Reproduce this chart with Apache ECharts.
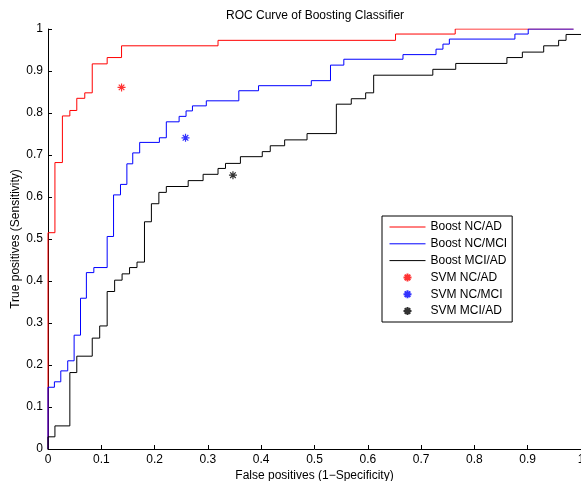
<!DOCTYPE html>
<html>
<head>
<meta charset="utf-8">
<script src="https://cdn.jsdelivr.net/npm/echarts@6/dist/echarts.min.js"></script>
<style>
  html, body { margin: 0; padding: 0; background: #fff; }
  #chart { width: 581px; height: 481px; }
</style>
</head>
<body>
<div id="chart"></div>
<script>
// ROC step points (x = false positive rate, y = true positive rate)
var redFpr = [0, 0, 0.013, 0.027, 0.041, 0.054, 0.069, 0.083, 0.111, 0.138, 0.319, 0.652, 0.764, 0.986]
var redTpr = [0, 0.515, 0.682, 0.793, 0.806, 0.835, 0.848, 0.917, 0.932, 0.960, 0.973, 0.988, 1.0, 1.0]

var blueFpr = [0, 0, 0.012, 0.024, 0.037, 0.049, 0.061, 0.072, 0.086, 0.111, 0.123, 0.136, 0.148, 0.159, 0.172,
  0.209, 0.222, 0.246, 0.259, 0.271, 0.297, 0.358, 0.395, 0.494, 0.530, 0.555, 0.666, 0.728, 0.741, 0.753, 0.876, 0.901, 0.986]
var blueTpr = [0, 0.147, 0.160, 0.186, 0.210, 0.271, 0.359, 0.420, 0.432, 0.506, 0.605, 0.630, 0.679, 0.705, 0.730,
  0.741, 0.779, 0.792, 0.805, 0.817, 0.829, 0.853, 0.865, 0.877, 0.914, 0.928, 0.939, 0.952, 0.964, 0.976, 0.988, 1.0, 1.0]

var blackFpr = [0, 0, 0.013, 0.041, 0.054, 0.083, 0.097, 0.111, 0.125, 0.139, 0.153, 0.167, 0.181, 0.194, 0.208, 0.222,
  0.263, 0.291, 0.319, 0.333, 0.361, 0.402, 0.417, 0.444, 0.486, 0.541, 0.569, 0.596, 0.611, 0.722, 0.765, 0.861,
  0.890, 0.930, 0.958, 0.972, 1.0]
var blackTpr = [0, 0.029, 0.055, 0.182, 0.221, 0.264, 0.293, 0.375, 0.402, 0.417, 0.432, 0.445, 0.541, 0.584, 0.611, 0.625,
  0.639, 0.654, 0.668, 0.680, 0.696, 0.708, 0.722, 0.736, 0.751, 0.821, 0.834, 0.848, 0.890, 0.904, 0.918, 0.932,
  0.945, 0.960, 0.973, 0.987, 0.987]

// SVM operating points [fpr, tpr]
var svmNcAd = [0.138, 0.861]
var svmNcMci = [0.258, 0.741]
var svmMciAd = [0.347, 0.652]

var seriesNames = ['Boost NC/AD', 'Boost NC/MCI', 'Boost MCI/AD', 'SVM NC/AD', 'SVM NC/MCI', 'SVM MCI/AD']
var axisTicks = [0, 0.1, 0.2, 0.3, 0.4, 0.5, 0.6, 0.7, 0.8, 0.9, 1]

var FONT = 'Liberation Sans, Arial, Helvetica, sans-serif'
var ASTERISK = 'path://M4,0L4,8M0,4L8,4M1.2,1.2L6.8,6.8M1.2,6.8L6.8,1.2'

function pairs(xs, ys) {
  return xs.map(function(x, i) { return [x, ys[i]] })
}

function rocLine(name, xs, ys, color) {
  return {
    name: name,
    type: 'line',
    step: 'end',
    symbol: 'none',
    animation: false,
    lineStyle: { color: color, width: 1 },
    itemStyle: { color: color },
    data: pairs(xs, ys)
  }
}

function svmPoint(name, pt, color) {
  return {
    name: name,
    type: 'scatter',
    symbol: ASTERISK,
    symbolSize: 8,
    animation: false,
    itemStyle: { color: color, borderColor: color, borderWidth: 1.2 },
    data: [pt]
  }
}

function valueAxis(name, nameGap, margin) {
  return {
    type: 'value',
    min: axisTicks[0],
    max: axisTicks[axisTicks.length - 1],
    interval: 0.1,
    name: name,
    nameLocation: 'middle',
    nameGap: nameGap,
    nameMoveOverlap: false,
    nameTextStyle: { color: '#000', fontSize: 12, fontFamily: FONT },
    axisLine: { show: true, lineStyle: { color: '#000', width: 1 } },
    axisTick: { show: true, inside: true, length: 4, lineStyle: { color: '#000' } },
    axisLabel: { color: '#000', fontSize: 12, fontFamily: FONT, margin: margin },
    splitLine: { show: false }
  }
}

// legend: plain lines for the ROC curves, asterisks for the SVM points
var legendData = seriesNames.map(function(name, i) {
  if (i < 3) {
    return { name: name, itemStyle: { color: 'transparent', borderWidth: 0, opacity: 0 }, lineStyle: { width: 1 } }
  }
  return { name: name }
})

var chart = echarts.init(document.getElementById('chart'), null, { renderer: 'canvas' })

chart.setOption({
  backgroundColor: '#fff',
  title: {
    text: 'ROC Curve of Boosting Classifier',
    left: 226,
    top: 10,
    padding: 0,
    textStyle: { color: '#000', fontSize: 12, fontWeight: 'normal', fontFamily: FONT }
  },
  grid: {
    left: 48,
    top: 29,
    width: 533,
    height: 420,
    containLabel: false,
    outerBoundsMode: 'none'
  },
  legend: {
    data: legendData,
    orient: 'vertical',
    left: 382,
    top: 216,
    padding: [5, 5, 5, 7],
    itemWidth: 36,
    itemHeight: 8,
    itemGap: 4.8,
    backgroundColor: '#fff',
    borderColor: '#000',
    borderWidth: 1,
    borderRadius: 0,
    textStyle: { color: '#000', fontSize: 12, fontFamily: FONT }
  },
  xAxis: valueAxis('False positives (1\u2212Specificity)', 21, 5),
  yAxis: valueAxis('True positives (Sensitivity)', 26, 5),
  series: [
    rocLine(seriesNames[0], redFpr, redTpr, '#ff0000'),
    rocLine(seriesNames[1], blueFpr, blueTpr, '#0000ff'),
    rocLine(seriesNames[2], blackFpr, blackTpr, '#000000'),
    svmPoint(seriesNames[3], svmNcAd, '#ff0000'),
    svmPoint(seriesNames[4], svmNcMci, '#0000ff'),
    svmPoint(seriesNames[5], svmMciAd, '#000000')
  ]
})
</script>
</body>
</html>
